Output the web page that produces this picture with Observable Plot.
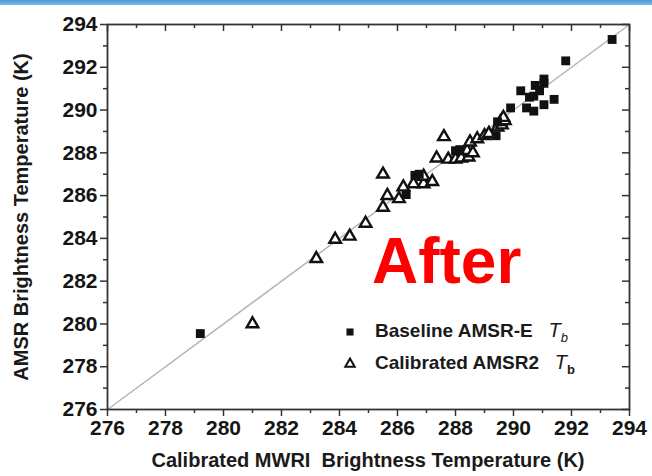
<!DOCTYPE html>
<html>
<head>
<meta charset="utf-8">
<script src="https://cdn.jsdelivr.net/npm/d3@7"></script>
<script src="https://cdn.jsdelivr.net/npm/@observablehq/plot@0.6"></script>
<style>
  html, body { margin: 0; padding: 0; background: #fff; }
  #wrap { position: relative; width: 652px; height: 476px; overflow: hidden; font-family: "Liberation Sans", Arial, sans-serif; }
  #topbar { position: absolute; left: 0; top: 0; width: 652px; height: 5px; background: linear-gradient(#4f97d3, #7db8e6); }
  .abs { position: absolute; white-space: pre; font-weight: bold; color: #1a1a1a; }
</style>
</head>
<body>
<div id="wrap">
  <div id="topbar"></div>
</div>
<script>
// Baseline AMSR-E Tb (squares)
const baseX = [279.2, 286.3, 286.6, 286.75, 288.0, 288.15, 289.4, 289.45, 289.9, 290.25, 290.45, 290.55, 290.7, 290.7, 290.75, 290.9, 291.05, 291.05, 291.05, 291.4, 291.8, 293.4];
const baseY = [279.55, 286.05, 286.95, 287.0, 288.1, 288.15, 288.8, 289.45, 290.1, 290.9, 290.1, 290.6, 290.65, 289.95, 291.15, 290.9, 291.45, 291.25, 290.25, 290.5, 292.3, 293.3];
// Calibrated AMSR2 Tb (triangles)
const calX = [281.0, 283.2, 283.85, 284.35, 284.9, 285.5, 285.5, 285.65, 286.05, 286.2, 286.55, 286.9, 286.9, 287.2, 287.35, 287.6, 287.75, 288.0, 288.2, 288.45, 288.4, 288.6, 288.5, 288.75, 289.0, 289.15, 289.45, 289.6, 289.55, 289.7, 289.65];
const calY = [280.0, 283.05, 283.95, 284.1, 284.7, 285.45, 287.0, 286.0, 285.85, 286.4, 286.55, 286.55, 286.9, 286.65, 287.75, 288.75, 287.7, 287.7, 287.75, 287.8, 288.1, 288.0, 288.5, 288.65, 288.8, 288.9, 289.2, 289.3, 289.45, 289.5, 289.65];
// 1:1 reference line
const oneToOne = [276, 294];
// ticks
const majorTicks = [276, 278, 280, 282, 284, 286, 288, 290, 292, 294];
const minorTicks = [277, 279, 281, 283, 285, 287, 289, 291, 293];
const xTitle = "Calibrated MWRI  Brightness Temperature (K)";
const yTitle = "AMSR Brightness Temperature (K)";
const seriesNames = ["Baseline AMSR-E", "Calibrated AMSR2"];

const base = baseX.map((x, i) => ({x, y: baseY[i]}));
const cal = calX.map((x, i) => ({x, y: calY[i]}));
const diag = oneToOne.map(v => ({x: v, y: v}));

const W = 652, H = 476, mL = 107, mR = 23, mT = 24, mB = 67;
const pw = W - mL - mR, ph = H - mT - mB;
const axisColor = "#333";

const chart = Plot.plot({
  width: W, height: H,
  marginLeft: mL, marginRight: mR, marginTop: mT, marginBottom: mB,
  x: {domain: [276, 294]},
  y: {domain: [276, 294]},
  style: {fontFamily: "'Liberation Sans', Arial, sans-serif", fontWeight: "bold", fontSize: "21px", color: "#151515", background: "transparent", overflow: "visible"},
  marks: [
    Plot.line(diag, {x: "x", y: "y", stroke: "#b5b5b5", strokeWidth: 1.5}),
    Plot.dot(cal, {x: "x", y: "y", symbol: "triangle", r: 4.3, stroke: "#111", strokeWidth: 2.4, fill: "white"}),
    Plot.dot(base, {x: "x", y: "y", symbol: "square", r: 5, fill: "#111", stroke: "none"}),
    // bottom axis (outward)
    Plot.axisX(majorTicks, {anchor: "bottom", tickSize: 7, tickPadding: 4, label: null, stroke: axisColor, strokeWidth: 1.5}),
    Plot.axisX(minorTicks, {anchor: "bottom", tickSize: 4, tickFormat: () => "", label: null, stroke: axisColor, strokeWidth: 1.5}),
    // left axis (outward)
    Plot.axisY(majorTicks, {anchor: "left", tickSize: 7, tickPadding: 3, label: null, stroke: axisColor, strokeWidth: 1.5}),
    Plot.axisY(minorTicks, {anchor: "left", tickSize: 4, tickFormat: () => "", label: null, stroke: axisColor, strokeWidth: 1.5}),
    // top and right mirror ticks (inward)
    Plot.tickX(majorTicks, {x: d => d, insetBottom: ph - 7, stroke: axisColor, strokeWidth: 1.5}),
    Plot.tickX(minorTicks, {x: d => d, insetBottom: ph - 4, stroke: axisColor, strokeWidth: 1.5}),
    Plot.tickY(majorTicks, {y: d => d, insetLeft: pw - 7, stroke: axisColor, strokeWidth: 1.5}),
    Plot.tickY(minorTicks, {y: d => d, insetLeft: pw - 4, stroke: axisColor, strokeWidth: 1.5}),
    Plot.frame({stroke: axisColor, strokeWidth: 1.8})
  ]
});
chart.style.position = "absolute";
chart.style.left = "0px";
chart.style.top = "0px";
const wrap = document.getElementById("wrap");
wrap.appendChild(chart);

function addText(txt, css) {
  const d = document.createElement("div");
  d.className = "abs";
  d.innerHTML = txt;
  Object.assign(d.style, css);
  wrap.appendChild(d);
  return d;
}
// axis titles
addText(xTitle, {left: (mL + pw / 2) + "px", top: "449px", transform: "translateX(-50%)", fontSize: "20px"});
addText(yTitle, {left: "21px", top: (mT + ph / 2) + "px", transform: "translate(-50%,-50%) rotate(-90deg)", fontSize: "20px"});

// legend
const legSvg = d3.create("svg").attr("width", 20).attr("height", 60)
  .style("position", "absolute").style("left", "340px").style("top", "320px");
legSvg.append("path").attr("d", d3.symbol(d3.symbolSquare, 50)()).attr("transform", "translate(10,12)").attr("fill", "#111");
legSvg.append("path").attr("d", d3.symbol(d3.symbolTriangle, 38)()).attr("transform", "translate(10,44)").attr("fill", "white").attr("stroke", "#111").attr("stroke-width", 2);
wrap.appendChild(legSvg.node());
addText(seriesNames[0] + '   <i style="font-weight:normal;font-size:20px;">T</i><sub style="font-size:13px;font-style:italic;font-weight:normal;">b</sub>', {left: "375px", top: "319px", fontSize: "19px"});
addText(seriesNames[1] + '   <i style="font-weight:normal;font-size:20px;">T</i><sub style="font-size:13px;">b</sub>', {left: "375px", top: "351px", fontSize: "19px"});

// "After" annotation
addText("After", {left: "372px", top: "224px", fontSize: "64px", color: "#ff0000", fontFamily: "'Liberation Sans', Arial, sans-serif"});
</script>
</body>
</html>
